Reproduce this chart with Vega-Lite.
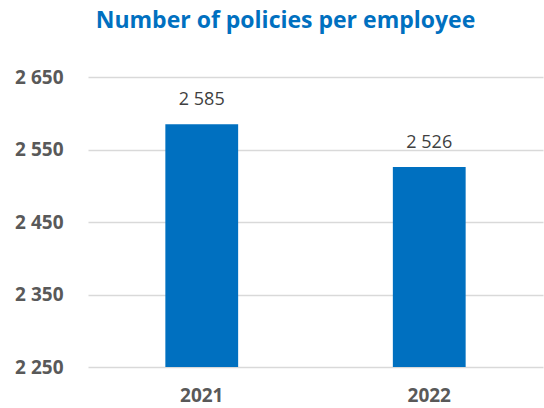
{
  "$schema": "https://vega.github.io/schema/vega-lite/v6.json",
  "autosize": {"type": "none"},
  "width": 455,
  "height": 290,
  "padding": {"left": 88, "top": 77, "right": 1, "bottom": 41},
  "title": {
    "text": "Number of policies per employee",
    "color": "#0070C0",
    "font": "Open Sans",
    "fontSize": 23,
    "fontWeight": "bold",
    "anchor": "middle",
    "dx": -30,
    "offset": 35
  },
  "config": {
    "locale": {"number": {"decimal": ".", "thousands": " ", "grouping": [3], "currency": ["", ""]}},
    "view": {"stroke": null},
    "font": "Open Sans"
  },
  "data": {"values": [
    {"year": "2021", "value": 2585},
    {"year": "2022", "value": 2526}
  ]},
  "encoding": {
    "x": {
      "field": "year", "type": "nominal",
      "scale": {"paddingInner": 0.68, "paddingOuter": 0.34},
      "axis": {"title": null, "labelAngle": 0, "domain": false, "ticks": false, "labelFontSize": 19, "labelFontWeight": "bold", "labelColor": "#595959", "labelPadding": 19, "labelFont": "Open Sans"}
    },
    "y": {
      "field": "value", "type": "quantitative",
      "scale": {"domain": [2250, 2650], "zero": false, "nice": false},
      "axis": {"title": null, "values": [2250, 2350, 2450, 2550, 2650], "format": ",d", "domain": false, "ticks": false, "labelFontSize": 19, "labelFontWeight": "bold", "labelColor": "#595959", "labelPadding": 25, "gridColor": "#D9D9D9", "gridWidth": 1.5, "labelFont": "Open Sans"}
    }
  },
  "layer": [
    {"mark": {"type": "bar", "color": "#0070C0"}, "encoding": {"y2": {"datum": 2250}}},
    {"mark": {"type": "text", "baseline": "bottom", "dy": -15, "fontSize": 18, "color": "#404040", "font": "Open Sans"},
     "encoding": {"text": {"field": "value", "type": "quantitative", "format": ",d"}}}
  ]
}
